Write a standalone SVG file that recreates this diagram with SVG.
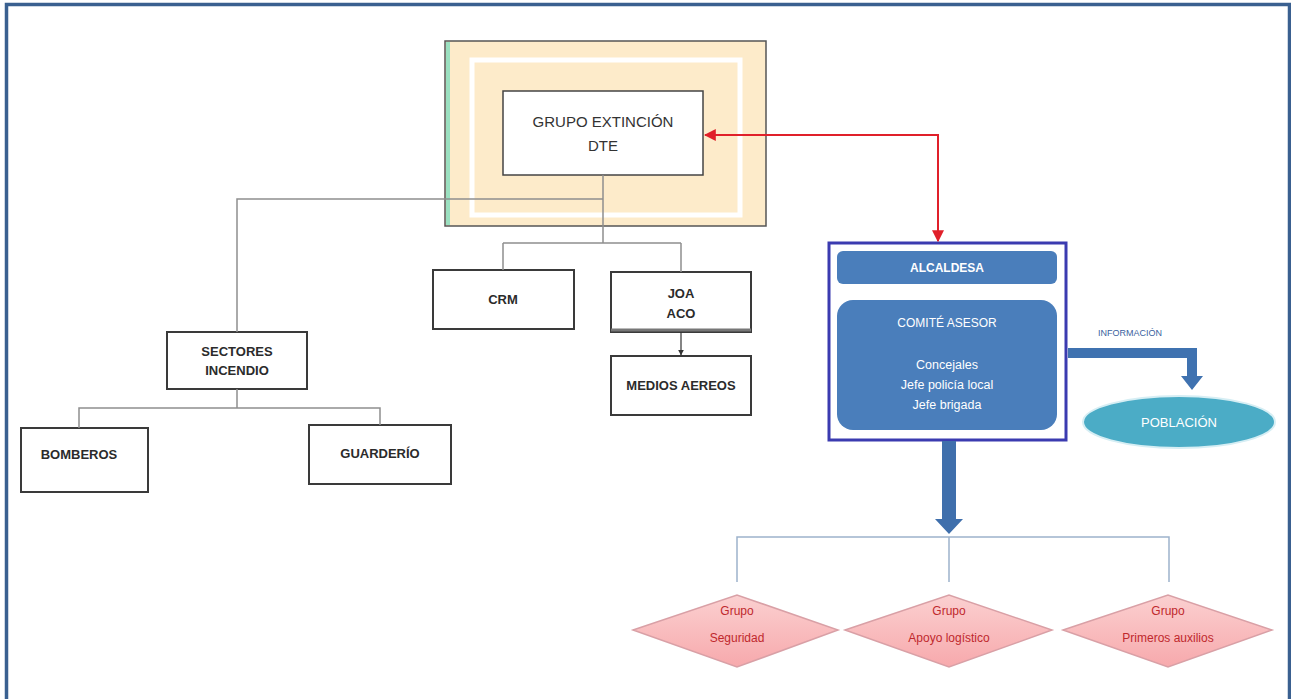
<svg xmlns="http://www.w3.org/2000/svg" width="1291" height="699" viewBox="0 0 1291 699">
<style>
.box{fill:#fff;stroke:#3a3a3a;stroke-width:2}
.lbl{font-family:"Liberation Sans",Arial,sans-serif;font-size:13px;font-weight:bold;fill:#2b2b2b;text-anchor:middle}
.tree{fill:none;stroke:#8f8f8f;stroke-width:1.5}
.wt{font-family:"Liberation Sans",Arial,sans-serif;fill:#fff;text-anchor:middle}
.dia{fill:url(#pink);stroke:#d9a0a6;stroke-width:1.5}
.dt{font-family:"Liberation Sans",Arial,sans-serif;font-size:12px;fill:#c0282d;text-anchor:middle}
</style>
<defs>
<marker id="red" viewBox="0 0 10 10" refX="9" refY="5" markerWidth="6" markerHeight="6" orient="auto-start-reverse" markerUnits="strokeWidth">
<path d="M0,0 L10,5 L0,10 z" fill="#e0202a"/>
</marker>
<marker id="blk" viewBox="0 0 10 10" refX="9" refY="5" markerWidth="5" markerHeight="5" orient="auto">
<path d="M0,0 L10,5 L0,10 z" fill="#333"/>
</marker>
<linearGradient id="pink" x1="0" y1="0" x2="0" y2="1">
<stop offset="0" stop-color="#fbd0d0"/>
<stop offset="1" stop-color="#f7a9ac"/>
</linearGradient>
</defs>
<rect width="1291" height="699" fill="#fff"/>
<path d="M6.5,699 V4.5 H1289.5 V699" fill="none" stroke="#3a6090" stroke-width="3.5"/>

<g id="grupo-extincion">
<rect x="445" y="41" width="321" height="185" fill="#fdebca" stroke="#555" stroke-width="1.5"/>
<rect x="446" y="42" width="4" height="183" fill="#9be0c0"/>
<rect x="472" y="60" width="268" height="155" fill="none" stroke="#fff" stroke-width="5"/>
<rect x="503" y="91" width="200" height="84" fill="#fff" stroke="#444" stroke-width="1.5"/>
<text x="603" y="127" font-family="'Liberation Sans',Arial,sans-serif" font-size="15" fill="#333" text-anchor="middle">GRUPO EXTINCIÓN</text>
<text x="603" y="151" font-family="'Liberation Sans',Arial,sans-serif" font-size="15" fill="#333" text-anchor="middle">DTE</text>
</g>

<g id="crm">
<rect class="box" x="433" y="270" width="141" height="59"/>
<text class="lbl" x="503" y="304">CRM</text>
</g>
<g id="joa">
<rect class="box" x="611" y="272" width="140" height="60"/>
<line x1="611" y1="330" x2="751" y2="330" stroke="#777" stroke-width="3"/>
<text class="lbl" x="681" y="298">JOA</text>
<text class="lbl" x="681" y="318">ACO</text>
</g>
<g id="medios">
<rect class="box" x="611" y="356" width="140" height="59"/>
<text class="lbl" x="681" y="390">MEDIOS AEREOS</text>
</g>
<g id="sectores">
<rect class="box" x="167" y="332" width="140" height="57"/>
<text class="lbl" x="237" y="356">SECTORES</text>
<text class="lbl" x="237" y="375">INCENDIO</text>
</g>
<g id="bomberos">
<rect class="box" x="21" y="428" width="127" height="64"/>
<text class="lbl" x="79" y="459">BOMBEROS</text>
</g>
<g id="guarderio">
<rect class="box" x="309" y="425" width="142" height="59"/>
<text class="lbl" x="380" y="458">GUARDERÍO</text>
</g>

<g id="alcaldesa">
<rect x="829" y="243" width="237" height="197" fill="#fff" stroke="#3b3bb0" stroke-width="3"/>
<rect x="837" y="251" width="220" height="33" rx="6" fill="#4a7ebb"/>
<text class="wt" x="947" y="272" font-size="12" font-weight="bold">ALCALDESA</text>
<rect x="837" y="300" width="220" height="130" rx="16" fill="#4a7ebb"/>
<text class="wt" x="947" y="327" font-size="12">COMITÉ ASESOR</text>
<text class="wt" x="947" y="369" font-size="12.5">Concejales</text>
<text class="wt" x="947" y="389" font-size="12.5">Jefe policía local</text>
<text class="wt" x="947" y="409" font-size="12.5">Jefe brigada</text>
</g>

<g id="informacion">
<text x="1130" y="336" font-family="'Liberation Sans',Arial,sans-serif" font-size="9" fill="#3a5fa0" text-anchor="middle">INFORMACIÓN</text>
</g>

<g id="poblacion">
<ellipse cx="1179" cy="422" rx="96" ry="26" fill="#4bacc6" stroke="#d6eef4" stroke-width="2"/>
<text class="wt" x="1179" y="427" font-size="13">POBLACIÓN</text>
</g>

<g id="grupo-seguridad">
<polygon class="dia" points="633,630 737,595 838,630 737,667"/>
<text class="dt" x="737" y="615">Grupo</text>
<text class="dt" x="737" y="642" font-size="11">Seguridad</text>
</g>
<g id="grupo-apoyo">
<polygon class="dia" points="845,630 949,595 1052,630 949,667"/>
<text class="dt" x="949" y="615">Grupo</text>
<text class="dt" x="949" y="642" font-size="10">Apoyo logístico</text>
</g>
<g id="grupo-primeros">
<polygon class="dia" points="1063,630 1168,595 1272,630 1168,667"/>
<text class="dt" x="1168" y="615">Grupo</text>
<text class="dt" x="1168" y="642" font-size="10">Primeros auxilios</text>
</g>

<g id="connectors">
<path class="tree" d="M603,175 V243 M603,199 H237 V332 M503,243 H681 M503,243 V270 M681,243 V272"/>
<path d="M681,332 V355" stroke="#333" stroke-width="1.2" marker-end="url(#blk)"/>
<path class="tree" d="M237,389 V408 M79,428 V408 H380 V425"/>
<path d="M938,241 V135 H705" fill="none" stroke="#e0202a" stroke-width="2" marker-start="url(#red)" marker-end="url(#red)"/>
<polygon points="942,441 956,441 956,519 963,519 949,534 935,519 942,519" fill="#3f6fac"/>
<path d="M737,582 V537 H1169 V582 M949,537 V582" fill="none" stroke="#9db3cc" stroke-width="1.5"/>
<polygon points="1068,348 1197,348 1197,376 1203,376 1192,390 1181,376 1187,376 1187,358 1068,358" fill="#3f72b0"/>
</g>
</svg>
